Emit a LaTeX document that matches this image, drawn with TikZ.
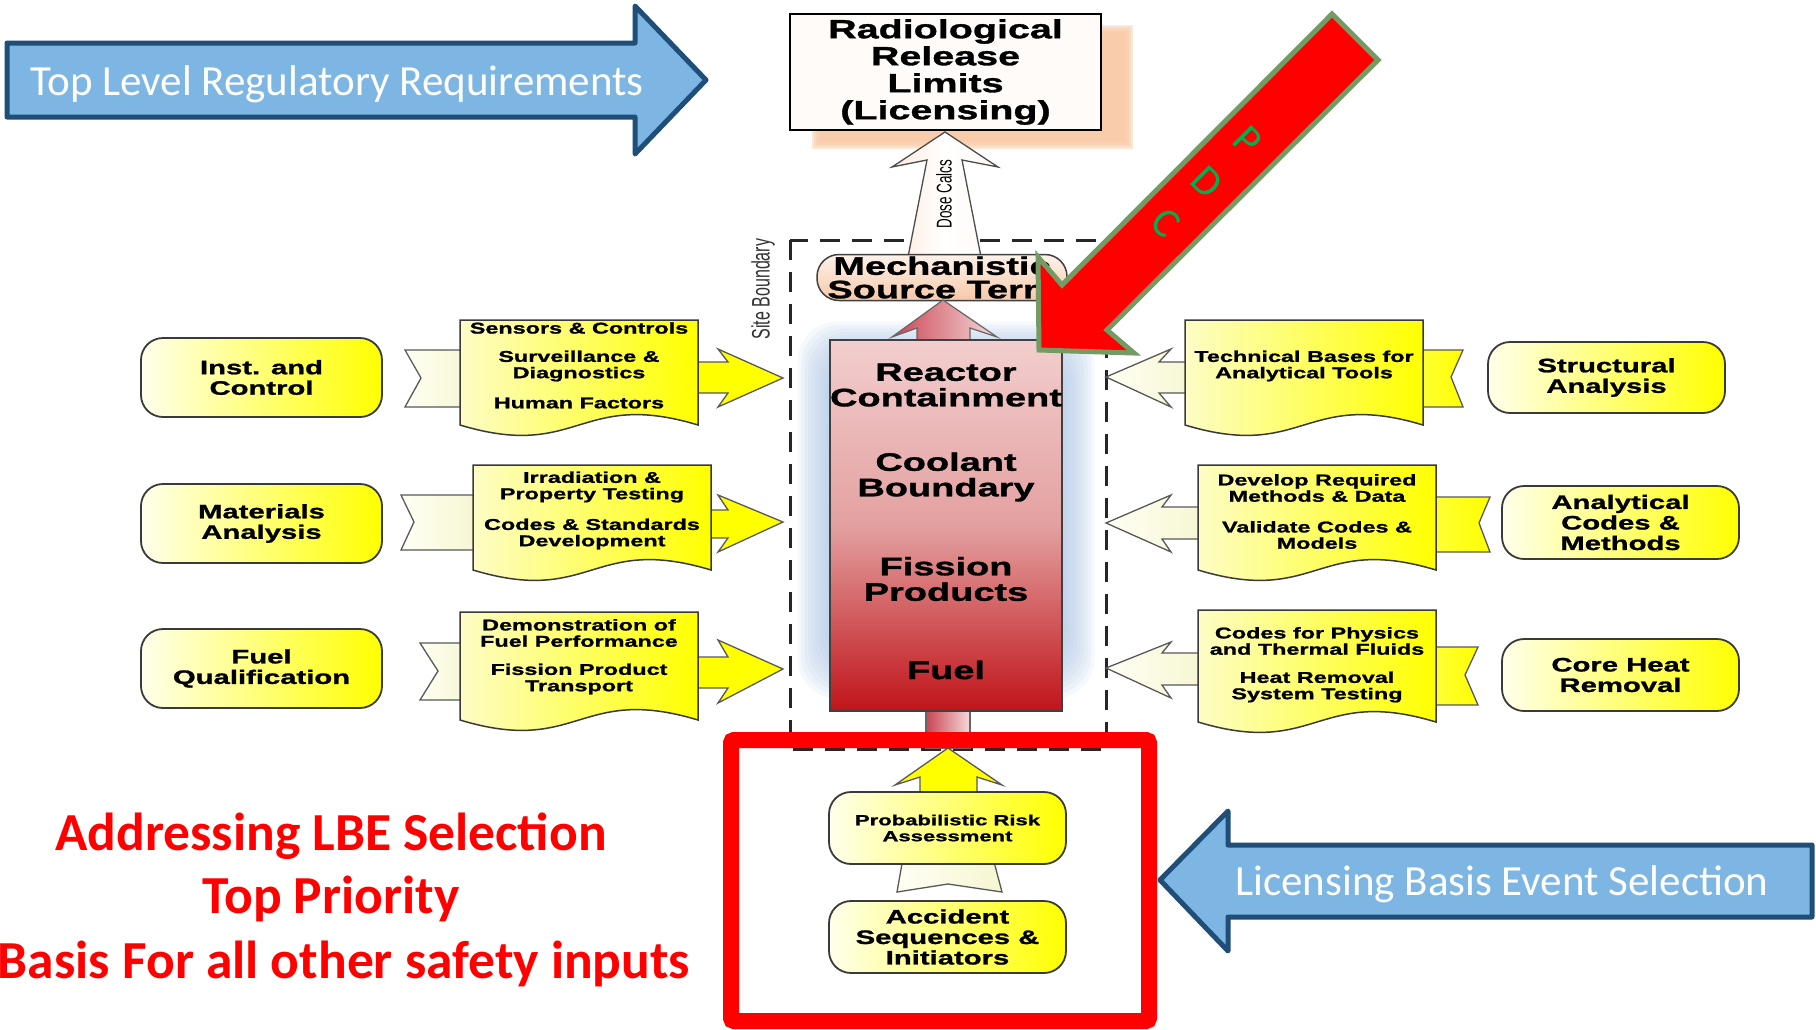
\documentclass[tikz,border=0pt]{standalone}
\usepackage{fontspec}
\setmainfont{Liberation Sans}
\newfontfamily\widebold{Liberation Sans}[FakeStretch=1.5, FakeBold=1.2]
\newfontfamily\carl{Carlito}

\definecolor{navy}{HTML}{1F4E79}
\definecolor{skyfill}{HTML}{7DB5E3}
\definecolor{pdcgreen}{HTML}{739B63}
\definecolor{lettergreen}{HTML}{00B050}
\definecolor{peach}{HTML}{F9CBA8}
\definecolor{paleyellow}{HTML}{FFFFEC}
\definecolor{docpale}{HTML}{FDFDC6}
\definecolor{brightyellow}{HTML}{FFFF00}
\definecolor{edgegray}{HTML}{3A3A3A}
\definecolor{glowblue}{HTML}{A8C3E6}
\definecolor{cream}{HTML}{FFFFF4}
\definecolor{creamdark}{HTML}{F6F6D2}
\definecolor{mechtop}{HTML}{FEF2EA}
\definecolor{mechbot}{HTML}{F6C8A8}
\definecolor{reactop}{HTML}{F3CECE}
\definecolor{reacmid}{HTML}{E3A0A0}
\definecolor{reacbot}{HTML}{C0141A}
\definecolor{redL}{HTML}{C94453}
\definecolor{redR}{HTML}{F6DADA}

\newcommand\fsz[2]{\fontsize{#1pt}{#2pt}\selectfont}

\tikzset{
  every node/.style={inner sep=0pt, outer sep=0pt},
  ybox/.style={draw=edgegray, line width=1.8pt, rounded corners=22pt,
    left color=paleyellow, right color=brightyellow, align=center,
    font=\widebold\bfseries\fsz{19.5}{20.5}},
  docfill/.style={draw=edgegray, line width=1.5pt, left color=docpale, right color=brightyellow},
  doctext/.style={align=center, font=\widebold\bfseries\fsz{15.6}{16.3}},
  headyellow/.style={draw=edgegray!85, line width=1.3pt, fill=brightyellow, line join=miter},
  tailpale/.style={draw=edgegray!85, line width=1.3pt, left color=cream, right color=creamdark},
  tailyellow/.style={draw=edgegray!85, line width=1.3pt, left color=yellow!75!white, right color=brightyellow},
  bluearrow/.style={draw=navy, line width=5pt, fill=skyfill, line join=round},
  coretext/.style={align=center, font=\widebold\bfseries\fsz{25.3}{25.5}},
  redtext/.style={anchor=base, text=red, font=\carl\bfseries\fsz{53.5}{60}},
  bluetext/.style={anchor=base, text=white, font=\carl\fsz{43}{50}},
}

% document shape with a wavy lower edge
\newcommand\drawdoc[4]{%
  \path[docfill] (#1,#3) -- (#2,#3) -- (#2,#4)
    .. controls ({(#1+#2)/2},{#4-36}) and ({(#1+#2)/2},{#4+36}) .. (#1,#4) -- cycle;}

\begin{document}
\begin{tikzpicture}[x=1pt,y=-1pt]
\useasboundingbox[fill=white] (0,0) rectangle (1816,1029);

% release limits box with a soft shadow
\foreach \i in {0,...,4}
  \fill[peach, opacity=0.45] ({812+2*\i},{25+2*\i}) rectangle ({1133-2*\i},{149-2*\i});
\node[draw=black, line width=1.6pt, fill=white!92!peach, minimum width=311pt, minimum height=116pt,
  align=center, font=\widebold\bfseries\fsz{26.3}{27}] (limits) at (945.5,72)
  {Radiological\\Release\\Limits\\(Licensing)};

% site boundary with its bluish glow
\begin{scope}
  \clip (790,240) rectangle (1106,749);
  \foreach \i in {0,...,11}
    \fill[glowblue, opacity=0.11, rounded corners=40pt]
      ({836-3.5*\i},{360-3.5*\i}) rectangle ({1056+3.5*\i},{660+3.5*\i});
\end{scope}
\draw[black!85, line width=3pt, dash pattern=on 20pt off 12pt] (790,240) rectangle (1106,749);
\node[rotate=90, text=black!80] (siteb) at (763,289) {\scalebox{1}[1.58]{\fsz{16}{18}Site Boundary}};

% dose calculation arrow
\path[draw=black!70, line width=1.3pt, left color=white!60!peach, right color=white!85!peach,
  middle color=white, line join=miter]
  (945,132) -- (998,167) -- (962,160) -- (982,262) -- (907,262) -- (927,160) -- (892,167) -- cycle;
\node[rotate=90] (dose) at (944,194) {\scalebox{1}[1.58]{\fsz{13.5}{15}Dose Calcs}};

% mechanistic source term
\node[draw=black!75, line width=1.5pt, rounded corners=22pt, top color=mechtop, bottom color=mechbot,
  minimum width=250pt, minimum height=46pt, align=center, font=\widebold\bfseries\fsz{25.3}{23.5}]
  (mst) at (942,277.5) {Mechanistic\\Source Term};

% release path arrows through the reactor
\path[draw=black!60, line width=1.2pt, left color=redL, right color=redR]
  (917,350) -- (917,328) -- (892,337) -- (943,300) -- (997,337) -- (970,328) -- (970,350) -- cycle;
\path[draw=black!60, line width=1.2pt, left color=redL, right color=redR]
  (926,700) -- (926,748) -- (970,748) -- (970,700);
\node[draw=black!75, line width=1.5pt, top color=reactop, bottom color=reacbot, middle color=reacmid,
  minimum width=232pt, minimum height=371pt] (reactor) at (946,525.5) {};
\node[coretext] (rc) at (946,385) {Reactor\\Containment};
\node[coretext] (cb) at (946,477) {Coolant\\Boundary};
\node[coretext] (fp) at (946,579) {Fission\\Products};
\node[coretext] (fu) at (946,670) {Fuel};

% left inputs
\path[tailpale] (405,350) -- (470,350) -- (470,407) -- (405,407) -- (421,378) -- cycle;
\path[tailpale] (401,495) -- (480,495) -- (480,550) -- (401,550) -- (414,522) -- cycle;
\path[tailpale] (420,643) -- (470,643) -- (470,700) -- (420,700) -- (438,671) -- cycle;
\path[headyellow] (690,362) -- (728,362) -- (718,349) -- (783,378) -- (718,407) -- (728,393) -- (690,393) -- cycle;
\path[headyellow] (700,510) -- (728,510) -- (718,495) -- (783,522) -- (718,552) -- (728,538) -- (700,538) -- cycle;
\path[headyellow] (690,657) -- (728,657) -- (718,640) -- (783,669) -- (718,703) -- (728,688) -- (690,688) -- cycle;
\drawdoc{460}{698}{320}{425}
\drawdoc{473}{711}{465}{570}
\drawdoc{460}{698}{612}{720}
\node[doctext] (sc) at (579,328) {Sensors \& Controls};
\node[doctext] (sd) at (579,366) {Surveillance \&\\Diagnostics};
\node[doctext] (hf) at (579,403) {Human Factors};
\node[doctext] (ip) at (592,487) {Irradiation \&\\Property Testing};
\node[doctext] (cs) at (592,534) {Codes \& Standards\\Development};
\node[doctext] (df) at (579,633) {Demonstration of\\Fuel Performance};
\node[doctext] (fpt) at (579,679) {Fission Product\\Transport};
\node[ybox, minimum width=241pt, minimum height=79pt] (inst) at (261.5,377.5) {Inst. and\\Control};
\node[ybox, minimum width=241pt, minimum height=79pt] (mat) at (261.5,523.5) {Materials\\Analysis};
\node[ybox, minimum width=241pt, minimum height=79pt] (fq) at (261.5,668.5) {Fuel\\Qualification};

% right inputs
\path[tailpale] (1195,362) -- (1159,362) -- (1171,349) -- (1106,377) -- (1171,407) -- (1159,393) -- (1195,393) -- cycle;
\path[tailpale] (1208,507) -- (1162,507) -- (1171,495) -- (1106,523) -- (1171,552) -- (1162,539) -- (1208,539) -- cycle;
\path[tailpale] (1208,653) -- (1162,653) -- (1171,642) -- (1106,668) -- (1171,698) -- (1162,685) -- (1208,685) -- cycle;
\path[tailyellow] (1413,350) -- (1463,350) -- (1451,377) -- (1463,407) -- (1413,407) -- cycle;
\path[tailyellow] (1426,497) -- (1490,497) -- (1479,523) -- (1490,552) -- (1426,552) -- cycle;
\path[tailyellow] (1426,647) -- (1478,647) -- (1465,675) -- (1478,705) -- (1426,705) -- cycle;
\drawdoc{1185}{1423}{320}{425}
\drawdoc{1198}{1436}{465}{570}
\drawdoc{1198}{1436}{610}{722}
\node[doctext] (tb) at (1304,366) {Technical Bases for\\Analytical Tools};
\node[doctext] (dr) at (1317,488) {Develop Required\\Methods \& Data};
\node[doctext] (vc) at (1317,535) {Validate Codes \&\\Models};
\node[doctext] (cp) at (1317,641) {Codes for Physics\\and Thermal Fluids};
\node[doctext] (hr) at (1317,687) {Heat Removal\\System Testing};
\node[ybox, minimum width=237pt, minimum height=71pt] (struct) at (1606.5,377.5) {Structural\\Analysis};
\node[ybox, minimum width=237pt, minimum height=73pt] (acm) at (1620.5,522.5) {Analytical\\Codes \&\\Methods};
\node[ybox, minimum width=237pt, minimum height=72pt] (chr) at (1620.5,675) {Core Heat\\Removal};

% event selection chain
\path[tailpale] (903,858) -- (993,858) -- (1002,892) -- (948,884) -- (897,892) -- cycle;
\path[headyellow] (920,800) -- (920,777) -- (895,785) -- (948,748) -- (1002,785) -- (977,777) -- (977,800) -- cycle;
\node[ybox, minimum width=237pt, minimum height=72pt, font=\widebold\bfseries\fsz{14.7}{16}] (pra) at (947.5,828) {Probabilistic Risk\\Assessment};
\node[ybox, minimum width=237pt, minimum height=72pt] (acc) at (947.5,937) {Accident\\Sequences \&\\Initiators};
\draw[red, line width=16pt, rounded corners=3pt] (731,740) rectangle (1149,1021);

% principal design criteria arrow
\path[fill=red, draw=pdcgreen, line width=5pt, line join=miter]
  (1039,350) -- (1038,257) -- (1062,285) -- (1332,14) -- (1378,60) -- (1107,330) -- (1134,353) -- cycle;
\node[rotate=-45, text=lettergreen, align=center, font=\carl\fsz{42}{58}] (pdc) at (1207,182) {P\\D\\C};

% banner arrows
\path[bluearrow] (7,43) -- (635,43) -- (635,6) -- (706,80) -- (635,154) -- (635,117) -- (7,117) -- cycle;
\node[bluetext] (trr) at (337,95) {Top Level Regulatory Requirements};
\path[bluearrow] (1812,845) -- (1228,845) -- (1228,811) -- (1160,880) -- (1228,951) -- (1228,917) -- (1812,917) -- cycle;
\node[bluetext] (lbes) at (1502,895) {Licensing Basis Event Selection};

% priority statement
\node[redtext] (t1) at (331,850) {Addressing LBE Selection};
\node[redtext] (t2) at (331,913) {Top Priority};
\node[redtext] (t3) at (344,978) {Basis For all other safety inputs};
\end{tikzpicture}
\end{document}
